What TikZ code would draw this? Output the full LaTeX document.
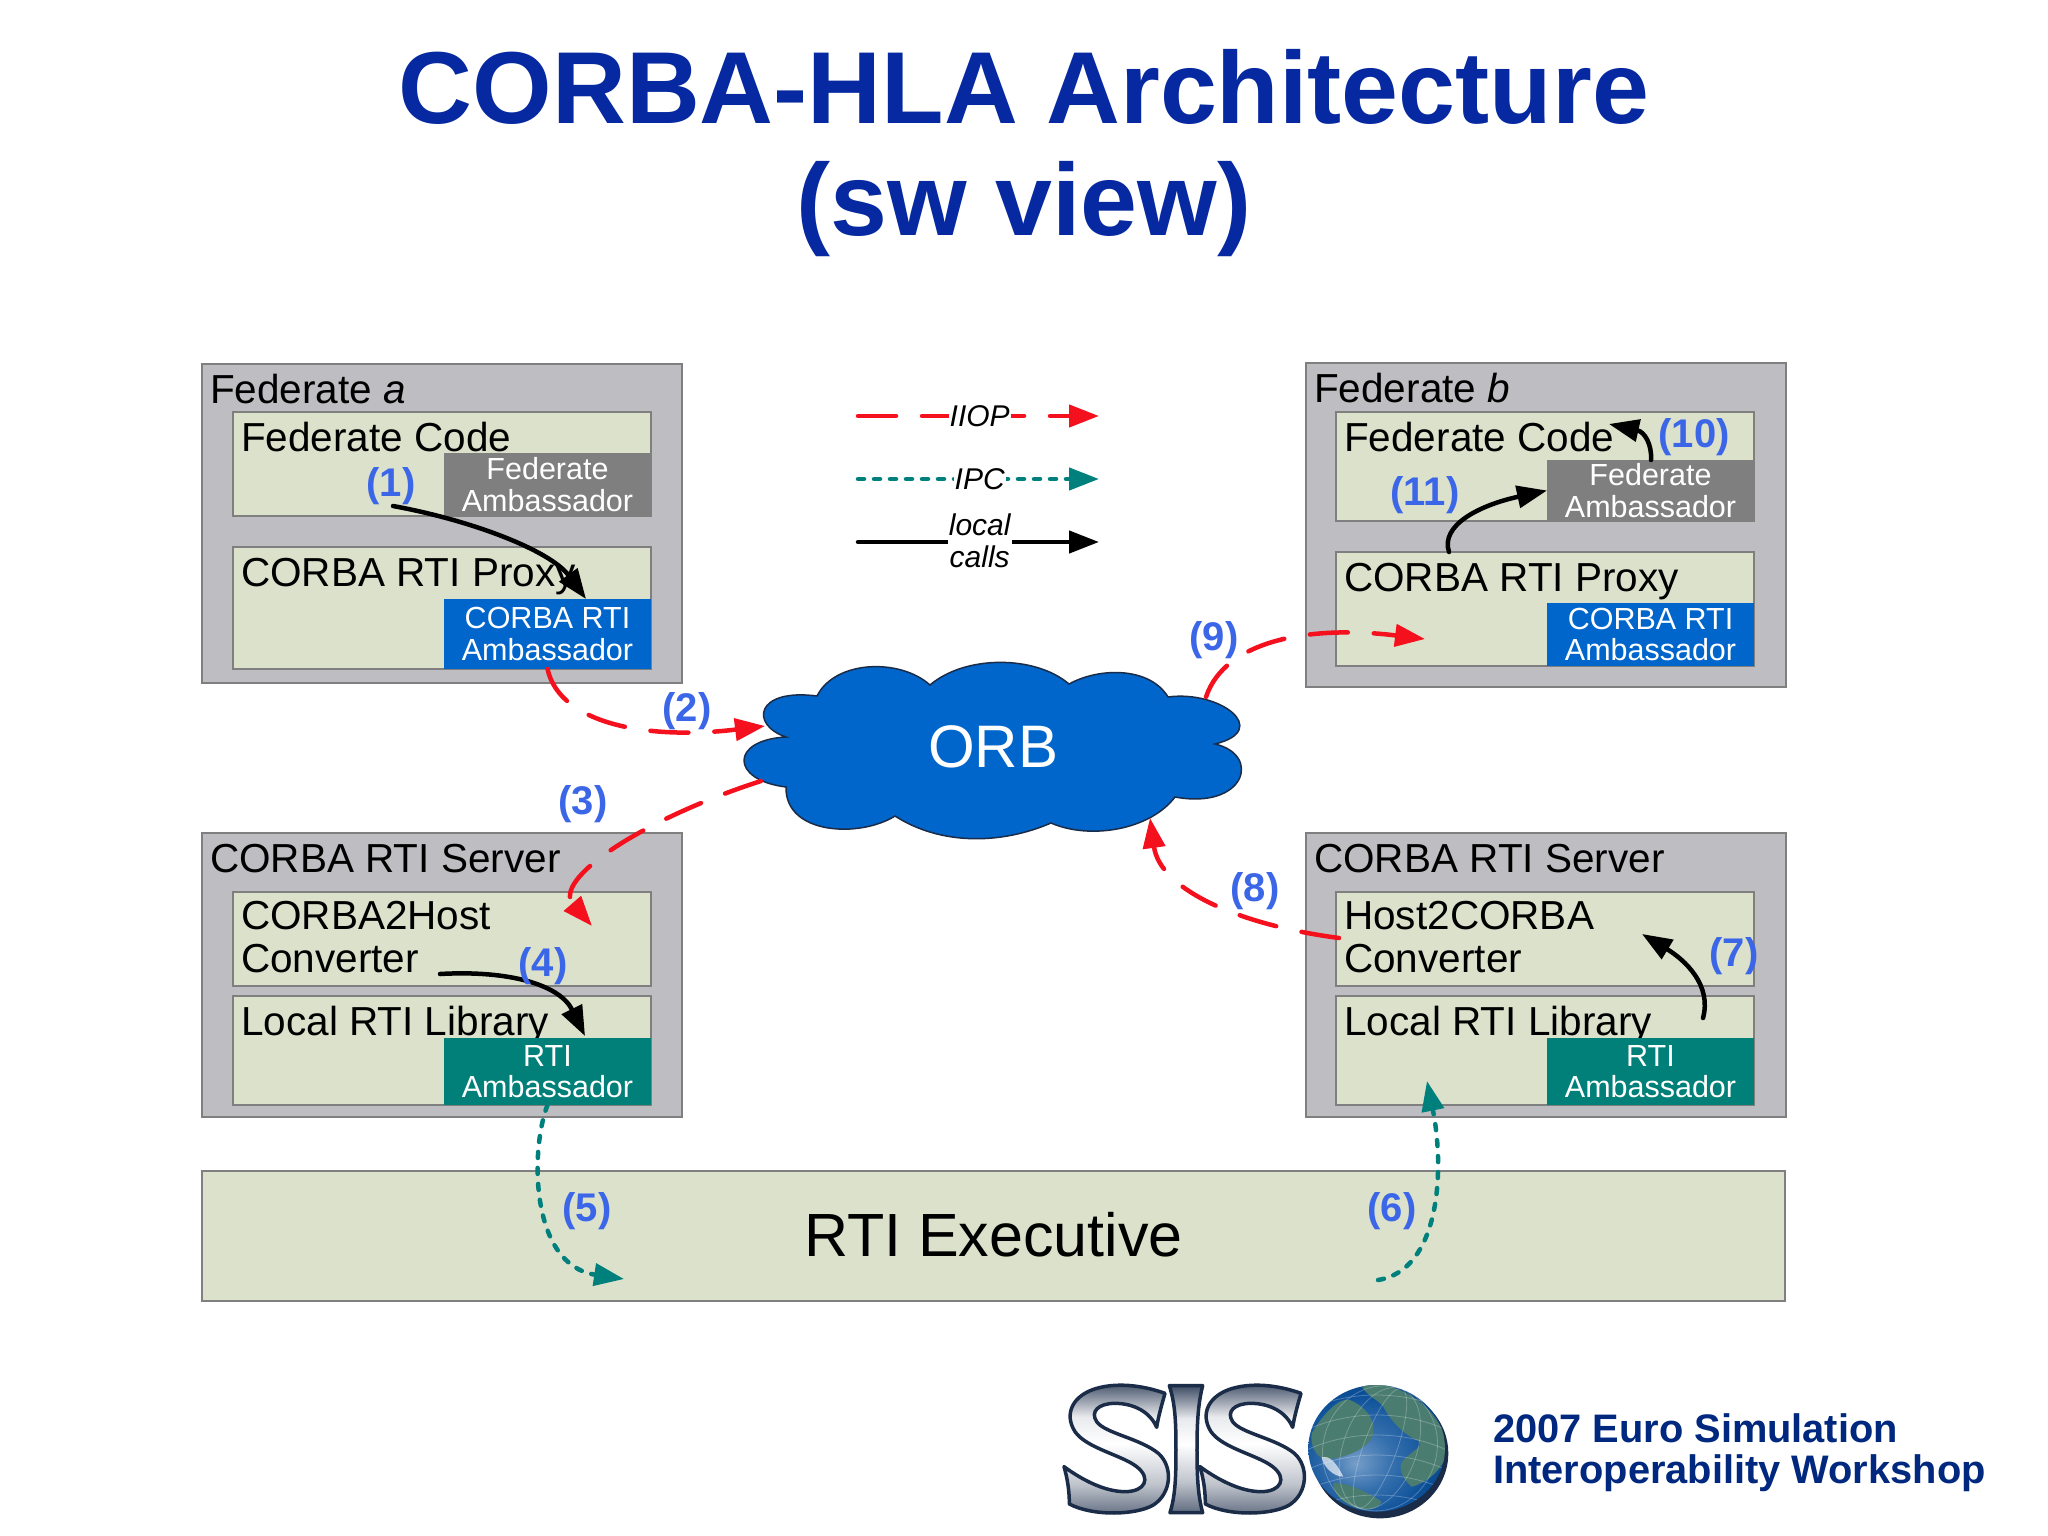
\documentclass[tikz,border=0pt]{standalone}
\usepackage{fontspec}
\setmainfont{Liberation Sans}
\usepackage{tikz}
\usetikzlibrary{arrows.meta}

\definecolor{titleblue}{HTML}{0628A0}
\definecolor{footblue}{HTML}{00287F}
\definecolor{stepblue}{HTML}{3B66E8}
\definecolor{outergray}{HTML}{BEBDC1}
\definecolor{innergreen}{HTML}{DCE1CB}
\definecolor{edgegray}{HTML}{7F7F7F}
\definecolor{orbblue}{HTML}{0066CC}
\definecolor{rtiteal}{HTML}{008078}
\definecolor{iiopred}{HTML}{F5101E}
\definecolor{ipcteal}{HTML}{00807C}
\definecolor{logonavy}{HTML}{1B2C48}
\definecolor{landgreen}{HTML}{4A7C70}

\pgfdeclareverticalshading{sisometal}{100bp}{color(0bp)=(logonavy!70!white); color(25bp)=(logonavy!70!white); color(37bp)=(white!72!logonavy); color(52bp)=(white); color(62bp)=(white!90!logonavy); color(75bp)=(logonavy!85!white); color(100bp)=(logonavy!85!white)}
\pgfdeclareradialshading{globeblue}{\pgfpoint{-8bp}{-6bp}}{color(0bp)=(white!55!orbblue!80!logonavy); color(12bp)=(white!25!orbblue!70!logonavy); color(25bp)=(orbblue!60!logonavy); color(50bp)=(logonavy)}

\tikzset{
	outerbox/.style={rectangle, draw=edgegray, fill=outergray, line width=1.5pt, outer sep=0pt, anchor=north west, minimum width=480pt},
	innerbox/.style={rectangle, draw=edgegray, fill=innergreen, line width=1.2pt, outer sep=0pt, anchor=north west, minimum width=418pt},
	ambbox/.style={rectangle, text=white, line width=1.2pt, outer sep=0pt, inner sep=0pt, align=center, anchor=north west, minimum width=207pt, font=\fontsize{30.5}{31.5}\selectfont},
	boxtitle/.style={anchor=base west, inner sep=0pt, xshift=8pt, yshift=-39pt, align=left, font=\fontsize{40.5}{43}\selectfont},
	stepnum/.style={text=stepblue, inner sep=0pt, xshift=1pt, yshift=-3pt, font=\fontsize{40}{44}\selectfont\bfseries},
	legendtext/.style={fill=white, inner sep=1pt, align=center, font=\fontsize{30}{32}\selectfont\itshape},
	iiop/.style={draw=iiopred, line width=4.5pt, line cap=round, dash pattern=on 38pt off 26pt, -{Triangle[length=30pt,width=22pt,fill=iiopred]}},
	ipc/.style={draw=ipcteal, line width=4.5pt, line cap=round, dash pattern=on 6pt off 10pt, -{Triangle[length=30pt,width=22pt,fill=ipcteal]}},
	localcall/.style={draw=black, line width=4.5pt, line cap=round, -{Triangle[length=30pt,width=22pt,fill=black]}},
	pics/sisoletter/.style={code={
		\shadedraw[shading=sisometal, draw=logonavy, line width=3.5pt, line join=round] (345,70)
			.. controls (335,105) and (325,140) .. (320,172)
			.. controls (300,125) and (250,100) .. (195,100)
			.. controls (145,100) and (120,125) .. (140,155)
			.. controls (165,190) and (270,205) .. (325,250)
			.. controls (370,290) and (365,370) .. (310,405)
			.. controls (260,435) and (130,440) .. (58,402)
			.. controls (58,360) and (52,325) .. (42,290)
			.. controls (90,325) and (160,365) .. (225,365)
			.. controls (285,365) and (305,325) .. (260,290)
			.. controls (215,255) and (110,235) .. (75,185)
			.. controls (40,130) and (70,75) .. (140,55)
			.. controls (210,35) and (290,50) .. (345,70) -- cycle;
	}}
}

\begin{document}
\begin{tikzpicture}[x=1pt, y=-1pt]

\useasboundingbox (0,0) rectangle (2048,1536);
\fill[white] (0,0) rectangle (2048,1536);

%title
\node at (1024,124) [anchor=base, inner sep=0pt, text=titleblue, font=\fontsize{102.3}{110}\selectfont\bfseries] (title) {CORBA-HLA Architecture};
\node at (1024,235) [anchor=base, inner sep=0pt, text=titleblue, font=\fontsize{102.3}{110}\selectfont\bfseries] (subtitle) {(sw view)};

%federate a
\node at (202,364) [outerbox, minimum height=319pt] (feda) {};
\node[boxtitle] at (feda.north west) (fedatitle) {Federate \textit{a}};
\node at (233,412) [innerbox, minimum height=104pt] (codea) {};
\node[boxtitle] at (codea.north west) (codeatitle) {Federate Code};
\node at (444,453) [ambbox, fill=edgegray, minimum height=63pt] (fedamba) {Federate\\Ambassador};
\node at (233,547) [innerbox, minimum height=122pt] (proxya) {};
\node[boxtitle] at (proxya.north west) (proxyatitle) {CORBA RTI Proxy};
\node at (444,599) [ambbox, fill=orbblue, minimum height=70pt] (corbaa) {CORBA RTI\\Ambassador};

%federate b
\node at (1306,363) [outerbox, minimum height=324pt] (fedb) {};
\node[boxtitle] at (fedb.north west) (fedbtitle) {Federate \textit{b}};
\node at (1336,412) [innerbox, minimum height=109pt] (codeb) {};
\node[boxtitle] at (codeb.north west) (codebtitle) {Federate Code};
\node at (1547,460) [ambbox, fill=edgegray, minimum height=61pt] (fedambb) {Federate\\Ambassador};
\node at (1336,552) [innerbox, minimum height=114pt] (proxyb) {};
\node[boxtitle] at (proxyb.north west) (proxybtitle) {CORBA RTI Proxy};
\node at (1547,603) [ambbox, fill=orbblue, minimum height=63pt] (corbab) {CORBA RTI\\Ambassador};

%server a
\node at (202,833) [outerbox, minimum height=284pt] (servera) {};
\node[boxtitle] at (servera.north west) (serveratitle) {CORBA RTI Server};
\node at (233,892) [innerbox, minimum height=94pt] (hosta) {};
\node[boxtitle, yshift=-41pt] at (hosta.north west) (hostatitle) {CORBA2Host\\Converter};
\node at (233,996) [innerbox, minimum height=109pt] (liba) {};
\node[boxtitle] at (liba.north west) (libatitle) {Local RTI Library};
\node at (444,1038) [ambbox, fill=rtiteal, minimum height=67pt] (rtia) {RTI\\Ambassador};

%server b
\node at (1306,833) [outerbox, minimum height=284pt] (serverb) {};
\node[boxtitle] at (serverb.north west) (serverbtitle) {CORBA RTI Server};
\node at (1336,892) [innerbox, minimum height=94pt] (hostb) {};
\node[boxtitle, yshift=-41pt] at (hostb.north west) (hostbtitle) {Host2CORBA\\Converter};
\node at (1336,996) [innerbox, minimum height=109pt] (libb) {};
\node[boxtitle] at (libb.north west) (libbtitle) {Local RTI Library};
\node at (1547,1038) [ambbox, fill=rtiteal, minimum height=67pt] (rtib) {RTI\\Ambassador};

%rti executive
\node at (202,1171) [innerbox, minimum width=1583pt, minimum height=130pt, font=\fontsize{61}{64}\selectfont] (exec) {\raisebox{3pt}{RTI Executive}};

%orb cloud
\draw[fill=orbblue, draw=logonavy, line width=1.5pt] (786,737)
	.. controls (750,725) and (755,688) .. (817,696)
	.. controls (835,660) and (900,658) .. (930,685)
	.. controls (965,655) and (1035,655) .. (1069,684)
	.. controls (1100,667) and (1150,667) .. (1168,697)
	.. controls (1220,690) and (1272,730) .. (1215,744)
	.. controls (1262,755) and (1245,810) .. (1175,797)
	.. controls (1150,830) and (1090,840) .. (1051,823)
	.. controls (1000,845) and (940,845) .. (895,816)
	.. controls (860,838) and (785,835) .. (786,787)
	.. controls (730,780) and (730,740) .. (786,737) -- cycle;
\node at (993,747) [text=white, font=\fontsize{60}{62}\selectfont] (orb) {ORB};

%free ends of the connectors
\coordinate (orbin) at (765,726);
\coordinate (orbout) at (761,781);
\coordinate (orbback) at (1150,818);
\coordinate (orbtop) at (1206,697);
\coordinate (iiopend) at (592,926);
\coordinate (hostout) at (1339,938);
\coordinate (proxyend) at (1425,639);
\coordinate (execin) at (624,1279);
\coordinate (execout) at (1378,1280);
\coordinate (libbin) at (1427,1081);
\coordinate (calla) at (393,506);
\coordinate (callaend) at (586,599);
\coordinate (hostcall) at (440,974);
\coordinate (hostcallend) at (585,1036);
\coordinate (libbcall) at (1703,1018);
\coordinate (hostbin) at (1642,934);
\coordinate (fedbcall) at (1651,460);
\coordinate (codebin) at (1609,424);
\coordinate (proxycall) at (1449,552);

%legend
\coordinate (iiopa) at (858,416);
\coordinate (iiopb) at (1099,416);
\coordinate (ipca) at (858,479);
\coordinate (ipcb) at (1099,479);
\coordinate (locala) at (858,542);
\coordinate (localb) at (1099,542);
\draw[iiop] (iiopa) -- (iiopb) node[legendtext, pos=0.505] (iioptext) {IIOP};
\draw[ipc] (ipca) -- (ipcb) node[legendtext, pos=0.505] (ipctext) {IPC};
\draw[localcall] (locala) -- (localb) node[legendtext, pos=0.505, yshift=1pt] (localtext) {local\\calls};

%arrows
\draw[localcall] (calla) .. controls (470,520) and (550,550) .. (callaend);
\draw[iiop] (corbaa.south) .. controls (560,725) and (650,740) .. (orbin);
\draw[iiop] (orbout) .. controls (640,820) and (552,880) .. (iiopend);
\draw[localcall] (hostcall) .. controls (510,970) and (560,985) .. (hostcallend);
\draw[ipc] (rtia.south) .. controls (530,1150) and (530,1265) .. (execin);
\draw[ipc] (execout) .. controls (1440,1270) and (1445,1170) .. (libbin);
\draw[localcall] (libbcall) .. controls (1712,985) and (1685,960) .. (hostbin);
\draw[iiop] (hostout) .. controls (1240,925) and (1160,890) .. (orbback);
\draw[iiop] (orbtop) .. controls (1225,640) and (1310,625) .. (proxyend);
\draw[localcall] (fedbcall) .. controls (1652,445) and (1645,432) .. (codebin);
\draw[localcall] (proxycall) .. controls (1440,525) and (1480,505) .. (fedambb.west);

%step numbers
\node at (390,483) [stepnum] (num1) {(1)};
\node at (686,708) [stepnum] (num2) {(2)};
\node at (582,801) [stepnum] (num3) {(3)};
\node at (542,963) [stepnum] (num4) {(4)};
\node at (586,1208) [stepnum] (num5) {(5)};
\node at (1391,1208) [stepnum] (num6) {(6)};
\node at (1733,953) [stepnum] (num7) {(7)};
\node at (1254,888) [stepnum] (num8) {(8)};
\node at (1213,637) [stepnum] (num9) {(9)};
\node at (1693,434) [stepnum] (num10) {(10)};
\node at (1424,492) [stepnum] (num11) {(11)};

%logo
\begin{scope}[shift={(1050,1370)}, x=0.3333pt, y=-0.3333pt]
\pic at (0,0) {sisoletter};
\pic at (408,0) {sisoletter};
\shadedraw[shading=sisometal, draw=logonavy, line width=3.5pt, line join=round] (358,47) -- (458,47)
	.. controls (445,100) and (441,150) .. (441,240) .. controls (441,330) and (445,380) .. (458,428)
	-- (360,428) .. controls (375,380) and (378,330) .. (378,240) .. controls (378,150) and (375,100) .. (358,47) -- cycle;
\fill[logonavy] (990,250) ellipse [x radius=205, y radius=195];
\begin{scope}
\clip (980,235) ellipse [x radius=205, y radius=190];
\shade[shading=globeblue] (775,45) rectangle (1185,425);
\fill[landgreen] (785,190) .. controls (820,130) and (870,80) .. (900,90) .. controls (945,110) and (985,150) .. (965,205) .. controls (945,240) and (880,265) .. (830,268) .. controls (800,265) and (780,230) .. (785,190) -- cycle;
\fill[landgreen] (930,40) .. controls (1040,35) and (1150,90) .. (1195,220) .. controls (1195,290) and (1130,340) .. (1085,350) .. controls (1060,330) and (1040,290) .. (1060,270) .. controls (1090,240) and (1120,230) .. (1110,215) .. controls (1060,195) and (1020,150) .. (1000,110) .. controls (980,85) and (950,80) .. (930,40) -- cycle;
\fill[landgreen] (850,340) .. controls (890,335) and (960,370) .. (995,395) .. controls (985,425) and (930,425) .. (890,400) .. controls (865,385) and (850,365) .. (850,340) -- cycle;
\fill[white, opacity=0.65] (815,262) .. controls (840,255) and (860,280) .. (880,320) .. controls (850,320) and (820,290) .. (815,262) -- cycle;
\foreach \gridrx in {50,110,170} {
	\draw[white, opacity=0.25, line width=0.8pt, rotate around={-20:(990,235)}] (990,235) ellipse [x radius=\gridrx, y radius=190];
}
\foreach \gridy in {90,150,210,270,330,390} {
	\draw[white, opacity=0.25, line width=0.8pt] (770,\gridy+30) .. controls (900,\gridy-30) and (1060,\gridy-30) .. (1190,\gridy+30);
}
\end{scope}
\end{scope}

%workshop text
\node at (1493,1442) [anchor=base west, inner sep=0pt, text=footblue, font=\fontsize{39.8}{41}\selectfont\bfseries] (footone) {2007 Euro Simulation};
\node at (1493,1483) [anchor=base west, inner sep=0pt, text=footblue, font=\fontsize{39.8}{41}\selectfont\bfseries] (foottwo) {Interoperability Workshop};

\end{tikzpicture}
\end{document}
